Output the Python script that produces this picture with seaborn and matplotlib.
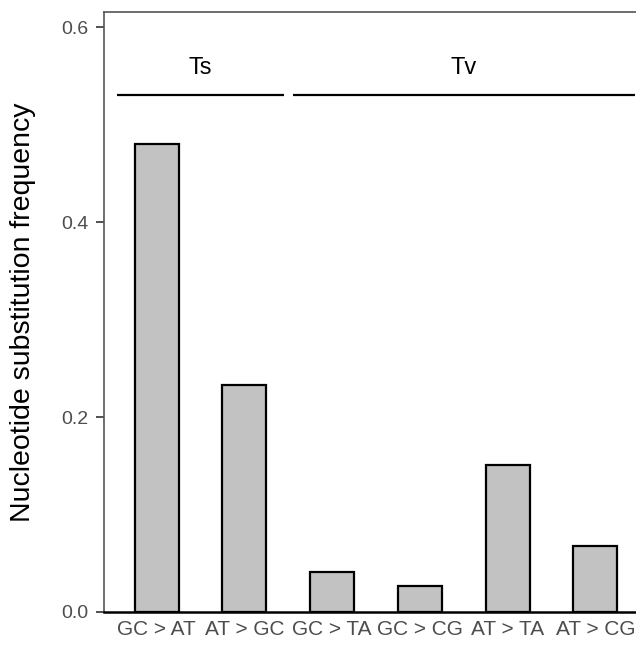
import numpy as np
import pandas as pd
import matplotlib
matplotlib.use('Agg')
import matplotlib.pyplot as plt
import seaborn as sns

# 데이터
categories = ['GC > AT', 'AT > GC', 'GC > TA', 'GC > CG', 'AT > TA', 'AT > CG']
frequency = [0.480, 0.233, 0.041, 0.027, 0.151, 0.068]
groups = ['Ts', 'Ts', 'Tv', 'Tv', 'Tv', 'Tv']
y_ticks = [0.0, 0.2, 0.4, 0.6]

df = pd.DataFrame({'mutation': categories, 'freq': frequency, 'group': groups})

sns.set_style('white')
plt.rcParams['font.family'] = ['Liberation Sans', 'DejaVu Sans']

fig = plt.figure(figsize=(6.36, 6.46), dpi=100)
# 오른쪽 끝은 그림 밖으로 잘림 (원본과 동일)
ax = fig.add_axes([104 / 636, 34 / 646, 544 / 636, 600 / 646])

sns.barplot(data=df, x='mutation', y='freq', order=categories,
            color='#C2C2C2', saturation=1, width=0.5,
            edgecolor='black', linewidth=1.6, ax=ax)

ax.set_xlim(-0.6, len(categories) - 0.4)
ax.set_ylim(0, 0.6154)
ax.set_yticks(y_ticks)
ax.set_yticklabels([f'{t:.1f}' for t in y_ticks])

# 그룹 구간 표시 (Ts / Tv)
for g in ['Ts', 'Tv']:
    idx = [i for i, v in enumerate(groups) if v == g]
    lo, hi = min(idx) - 0.45, max(idx) + 0.45
    ax.plot([lo, hi], [0.53, 0.53], color='black', lw=1.6, solid_capstyle='butt')
    ax.text((min(idx) + max(idx)) / 2, 0.558, g, ha='center', va='center',
            fontsize=17, color='black')

ax.set_xlabel('')
ax.set_ylabel('Nucleotide substitution frequency', fontsize=20.5, color='black')
ax.yaxis.set_label_coords(-0.125, 0.5)

ax.tick_params(axis='x', length=0, pad=6, labelsize=15, labelcolor='#4D4D4D')
ax.tick_params(axis='y', length=6, width=1.2, color='#333333', pad=5,
               labelsize=14, labelcolor='#4D4D4D', left=True)

for side in ['left', 'top']:
    ax.spines[side].set_color('#555555')
    ax.spines[side].set_linewidth(1.2)
ax.spines['bottom'].set_color('black')
ax.spines['bottom'].set_linewidth(1.8)
ax.spines['right'].set_visible(False)

plt.savefig('out.png', dpi=100)
plt.close()
